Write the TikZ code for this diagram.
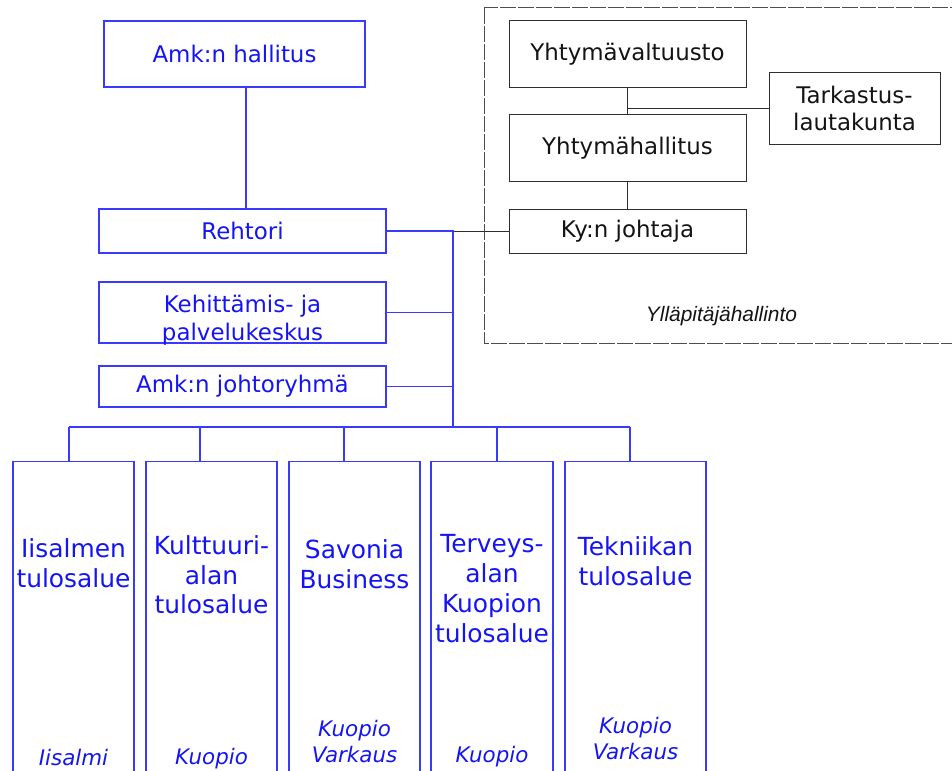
\documentclass[tikz,border=0pt]{standalone}
\usepackage{fontspec}
\setmainfont{DejaVu Sans}[ItalicFont={DejaVu Sans Oblique}]
\newfontfamily\ownerfont{Liberation Sans}
\usepackage{tikz}
\usetikzlibrary{positioning}
\usepackage{xcolor}
\definecolor{AmkBlue}{HTML}{3A3AFF}
\definecolor{AmkText}{HTML}{1414F5}
\definecolor{KyGray}{HTML}{2E2E2E}
\definecolor{KyText}{HTML}{141414}
\definecolor{FrameGray}{HTML}{4D4D4D}
\tikzset{
  org box/.style={draw=AmkBlue,line width=1.1bp,text=AmkText,align=center,
    inner sep=0pt,font={\fontsize{23}{28}\selectfont}},
  org text/.style={text=AmkText,align=center,inner sep=0pt,font={\fontsize{23}{28}\selectfont}},
  ky box/.style={org box,draw=KyGray,text=KyText,line width=1bp},
  amk line/.style={draw=AmkBlue,line width=1.1bp},
  ky line/.style={draw=KyGray,line width=1bp},
  unit box/.style={draw=AmkBlue,line width=1.1bp,anchor=north,minimum height=340bp,inner sep=0pt},
  unit title/.style={text=AmkText,align=center,anchor=north,inner sep=0pt,
    font={\fontsize{25}{30}\selectfont}},
  unit place/.style={text=AmkText,align=center,anchor=south,inner sep=0pt,
    font={\fontsize{21.5}{26}\selectfont\itshape}},
  owner frame/.style={draw=FrameGray,line width=1bp,dash pattern=on 16bp off 2bp},
  owner label/.style={text=KyText,anchor=base,inner sep=0pt,
    font={\ownerfont\fontsize{21}{25}\selectfont\itshape}}
}
\begin{document}
\begin{tikzpicture}[x=1bp,y=-1bp]
  \useasboundingbox (0,0) rectangle (952,771);
  \clip (0,0) rectangle (952,771);
  % ammattikorkeakoulu
  \node[org box,minimum width=261bp,minimum height=66bp] (hallitus) at (234.5,54) {Amk:n hallitus};
  \node[org box,minimum width=287bp,minimum height=44bp] (rehtori) at (242.5,231) {Rehtori};
  \node[org box,minimum width=287bp,minimum height=61bp] (kehitys) at (242.5,312.5) {};
  \node[org text] (kehitys text) at ([yshift=-8bp]kehitys.center) {Kehittämis- ja\\palvelukeskus};
  \node[org box,minimum width=287bp,minimum height=41bp] (johtoryhma) at (242.5,386.5) {Amk:n johtoryhmä};
  % ylläpitäjä
  \draw[owner frame] (484,8) rectangle (975,343);
  \node[ky box,minimum width=237bp,minimum height=66bp] (valtuusto) at (627.5,54) {Yhtymävaltuusto};
  \node[ky box,minimum width=237bp,minimum height=66bp] (yhthallitus) at (627.5,148) {Yhtymähallitus};
  \node[ky box,minimum width=237bp,minimum height=44bp] (kyjohtaja) at (627.5,231) {Ky:n johtaja};
  \node[ky box,minimum width=171bp,minimum height=71bp] (tarkastus) at (854.5,108.5) {Tarkastus-\\lautakunta};
  \node[owner label] (yllapitaja) at (721.5,321) {Ylläpitäjähallinto};
  \draw[ky line] (valtuusto) -- (yhthallitus);
  \draw[ky line] (yhthallitus) -- (kyjohtaja);
  \draw[ky line] (tarkastus.west) -- (tarkastus.west -| valtuusto.south);
  % tulosalueet
  \node[unit box,minimum width=121bp] (iisalmi) at (73.5,461) {};
  \node[unit box,minimum width=131bp] (kulttuuri) at (211.5,461) {};
  \node[unit box,minimum width=131bp] (business) at (354.5,461) {};
  \node[unit box,minimum width=122bp] (terveys) at (492,461) {};
  \node[unit box,minimum width=141bp] (tekniikka) at (635.5,461) {};
  \node[unit title] (iisalmi title) at (73.5,538) {Iisalmen\\tulosalue};
  \node[unit title] (kulttuuri title) at (211.5,535) {Kulttuuri-\\alan\\tulosalue};
  \node[unit title] (business title) at (354.5,539) {Savonia\\Business};
  \node[unit title] (terveys title) at (492,534) {Terveys-\\alan\\Kuopion\\tulosalue};
  \node[unit title] (tekniikka title) at (635.5,536) {Tekniikan\\tulosalue};
  \node[unit place] (iisalmi place) at (73.5,773.5) {Iisalmi\strut};
  \node[unit place] (kulttuuri place) at (211.5,772.8) {Kuopio\strut};
  \node[unit place] (business place) at (354.5,770.8) {Kuopio\\Varkaus\strut};
  \node[unit place] (terveys place) at (492,770.8) {Kuopio\strut};
  \node[unit place] (tekniikka place) at (635.5,767.8) {Kuopio\\Varkaus\strut};
  % linjat
  \coordinate (spine) at (453,231);
  \coordinate (bus1) at (69,427);
  \coordinate (bus2) at (200,427);
  \coordinate (bus3) at (344,427);
  \coordinate (bus4) at (497,427);
  \coordinate (bus5) at (630,427);
  \draw[amk line] ([xshift=3.5bp]rehtori.north) -- ([xshift=3.5bp]rehtori.north |- hallitus.south);
  \draw[ky line] (spine) -- (kyjohtaja.west);
  \draw[amk line] (rehtori.east) -- (spine) -- (spine |- bus1);
  \draw[amk line] (kehitys.east) -- (kehitys.east -| spine);
  \draw[amk line] (johtoryhma.east) -- (johtoryhma.east -| spine);
  \draw[amk line] (bus1) -- (bus5);
  \draw[amk line] (bus1) -- (bus1 |- iisalmi.north);
  \draw[amk line] (bus2) -- (bus2 |- kulttuuri.north);
  \draw[amk line] (bus3) -- (bus3 |- business.north);
  \draw[amk line] (bus4) -- (bus4 |- terveys.north);
  \draw[amk line] (bus5) -- (bus5 |- tekniikka.north);
\end{tikzpicture}
\end{document}
